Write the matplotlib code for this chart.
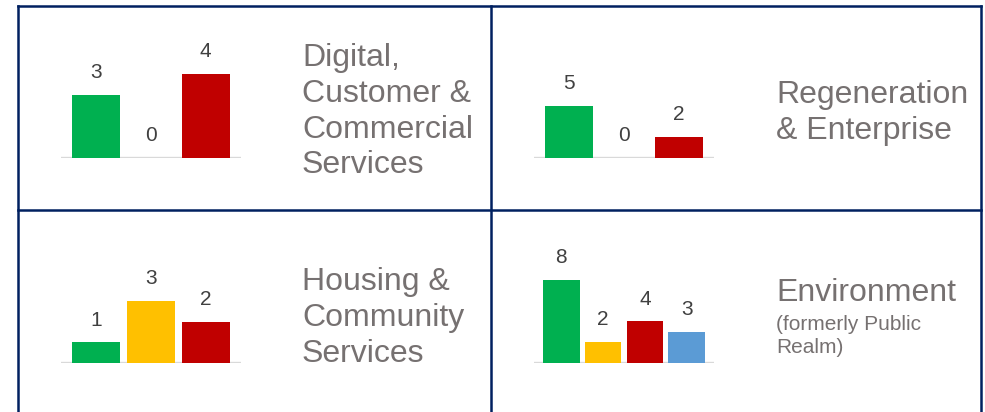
import matplotlib
matplotlib.use('Agg')
import matplotlib.pyplot as plt

plt.rcParams.update({
    'font.family': ['Liberation Sans', 'DejaVu Sans'],
})

# panel data
titles = ['Digital,\nCustomer &\nCommercial\nServices',
          'Regeneration\n& Enterprise',
          'Housing &\nCommunity\nServices',
          'Environment']
subtitles = ['', '', '', '(formerly Public\nRealm)']
values = [
    [3, 0, 4],
    [5, 0, 2],
    [1, 3, 2],
    [8, 2, 4, 3],
]
bar_colors = [
    ['#00B050', '#FFC000', '#C00000'],
    ['#00B050', '#FFC000', '#C00000'],
    ['#00B050', '#FFC000', '#C00000'],
    ['#00B050', '#FFC000', '#C00000', '#5B9BD5'],
]
y_max = [6.1, 12.25, 6.2, 12.3]

W, H = 985, 412
fig = plt.figure(figsize=(W / 100, H / 100), dpi=100)
fig.patch.set_facecolor('white')

# frame lines (pixel coords)
navy = '#002060'
frame = fig.add_axes([0, 0, 1, 1])
frame.set_xlim(0, W)
frame.set_ylim(H, 0)
frame.axis('off')
lw = 1.8
frame.plot([18, 18], [6, H + 5], color=navy, lw=lw)
frame.plot([981, 981], [6, H + 5], color=navy, lw=lw)
frame.plot([491, 491], [6, H + 5], color=navy, lw=lw)
frame.plot([18, 981], [6, 6], color=navy, lw=lw)
frame.plot([18, 981], [210, 210], color=navy, lw=lw)

# axes placement: (left px, baseline px)
ax_left = [61, 534, 61, 534]
ax_base = [158, 158, 363, 363]
ax_w, ax_h = 180, 128
text_x = [302, 776, 302, 776]
text_top = [43, 80, 267, 278]

for i in range(4):
    ax = fig.add_axes([ax_left[i] / W, 1 - ax_base[i] / H, ax_w / W, ax_h / H])
    vals = values[i]
    x = list(range(len(vals)))
    bars = ax.bar(x, vals, width=0.88, color=bar_colors[i], zorder=3)
    ax.axhline(0, color='#d9d9d9', lw=2.4, zorder=2)
    for b, v in zip(bars, vals):
        ax.annotate(str(v), (b.get_x() + b.get_width() / 2, v),
                    xytext=(0, 16), textcoords='offset points',
                    ha='center', va='center', fontsize=15, color='#404040')
    ax.set_xlim(-0.65, len(vals) - 1 + 0.65)
    ax.set_ylim(0, y_max[i])
    ax.axis('off')

    fig.text(text_x[i] / W, 1 - text_top[i] / H, titles[i], ha='left', va='top',
             fontsize=23, color='#767171', linespacing=1.25)
    if subtitles[i]:
        fig.text(text_x[i] / W, 1 - 315 / H, subtitles[i], ha='left', va='top',
                 fontsize=15, color='#767171', linespacing=1.28)

fig.savefig('out.png', dpi=100)
